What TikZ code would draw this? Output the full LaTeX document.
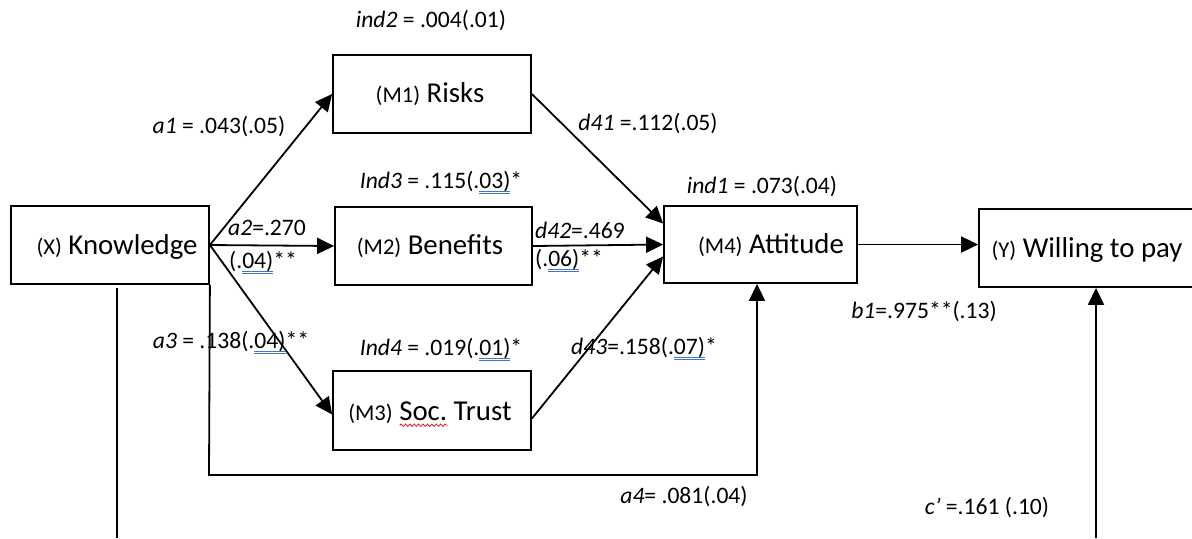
\documentclass[tikz,border=0pt]{standalone}
\usepackage{fontspec}
\setmainfont{Carlito}
\usetikzlibrary{arrows.meta,calc,fit,decorations.pathmorphing}

\definecolor{ulblue}{RGB}{68,114,196}
\definecolor{spellred}{RGB}{230,30,30}

% grammar-check style double underline
\newsavebox\gbox
\newcommand\gramul[1]{\sbox\gbox{#1}\rlap{\color{ulblue}\rule[-1.6pt]{\wd\gbox}{0.35pt}\kern-\wd\gbox\rule[-2.7pt]{\wd\gbox}{0.35pt}}\usebox\gbox}
% spell-check style wavy underline
\newlength\wavelen
\newcommand\spellwave[1]{\sbox\gbox{#1}\setlength\wavelen{\wd\gbox}\rlap{\tikz[baseline=0pt,x=1pt,y=1pt]\draw[spellred,line width=0.4pt,decorate,decoration={snake,amplitude=0.6pt,segment length=2.2pt}] (0pt,-2.6pt) -- (\wavelen,-2.6pt);}\usebox\gbox}

\newcommand\boxfont{\fontsize{14.4}{17}\selectfont}
\newcommand\tagfont{\fontsize{11.3}{13}\selectfont}
\newcommand\labfont{\fontsize{11.8}{14}\selectfont}

\tikzset{
  box/.style={draw, line width=0.9pt, inner sep=0pt},
  boxtext/.style={anchor=base, inner sep=0pt, font=\boxfont},
  lab/.style={anchor=base, inner sep=0pt, font=\labfont},
  link/.style={line width=0.9pt},
  arr/.style={link, -{Triangle[length=8.5pt,width=8pt]}},
}

\begin{document}
\begin{tikzpicture}[x=0.5pt,y=-0.5pt]
\useasboundingbox (0,0) rectangle (1192,538);
\clip (0,0) rectangle (1192,538);

% boxes
\node[box, fit={(11,206)(209,284)}] (x) {};
\node[box, fit={(333,55)(531,133)}] (m1) {};
\node[box, fit={(335,207)(532,285)}] (m2) {};
\node[box, fit={(333,371)(531,450)}] (m3) {};
\node[box, fit={(664,206)(857,283)}] (m4) {};
\node[box, fit={(979,209)(1205,287)}] (y) {};

% box texts
\node[boxtext] (tx) at (117,254) {{\tagfont(X)} Knowledge};
\node[boxtext] (tm1) at (430,102) {{\tagfont(M1)} Risks};
\node[boxtext] (tm2) at (430,254) {{\tagfont(M2)} Benefits};
\node[boxtext] (tm3) at (430,420) {{\tagfont(M3)} \spellwave{Soc.} Trust};
\node[boxtext] (tm4) at (771,253) {{\tagfont(M4)} Attitude};
\node[boxtext] (ty) at (1087,257) {{\tagfont(Y)} Willing to pay};

% free ends and bends
\coordinate (a4bend) at (209,475);
\coordinate (xdown) at (117,538);
\coordinate (ydown) at (1096,538);

% connectors
\draw[arr] (x.east) -- (m1.west);
\draw[arr] (x.east) -- (m2.west);
\draw[arr] (x.east) -- ($(m3.west)+(0,4)$);
\draw[arr] (m1.east) -- ($(m4.west)+(0,-21)$);
\draw[arr] (m2.east) -- (m4.west);
\draw[arr] ($(m3.east)+(0,8)$) -- ($(m4.west)+(0,12)$);
\draw[arr] (m4.east) -- (m4.east -| y.west);
\draw[arr] (x.south east) -- (a4bend) -| ($(m4.south)+(-3.5,0)$);
\draw[link] ($(x.south -| xdown)+(0,3)$) -- (xdown);
\draw[arr] (ydown) -- (ydown |- y.south);

% coefficients
\node[lab] (lind2) at (431,27) {\textit{ind2} = .004(.01)};
\node[lab] (la1) at (219,133) {\textit{a1} = .043(.05)};
\node[lab] (ld41) at (648,130) {\textit{d41} =.112(.05)};
\node[lab] (lind3) at (441,188) {\textit{Ind3} = .115(.\gramul{03)}*};
\node[lab] (lind1) at (762,193) {\textit{ind1} = .073(.04)};
\node[lab] (la2) at (267,235) {\textit{a2}=.270};
\node[lab] (la2se) at (263,268) {(.\gramul{04)}**};
\node[lab] (ld42) at (580,238) {\textit{d42}=.469};
\node[lab] (ld42se) at (569,266) {(.\gramul{06)}**};
\node[lab] (la3) at (231,348) {\textit{a3} = .138(.\gramul{04)}**};
\node[lab] (lind4) at (441,355) {\textit{Ind4} = .019(.\gramul{01)}*};
\node[lab] (ld43) at (644,354) {\textit{d43}=.158(.\gramul{07)}*};
\node[lab] (lb1) at (924,318) {\textit{b1}=.975**(.13)};
\node[lab] (la4) at (684,503) {\textit{a4}= .081(.04)};
\node[lab] (lc) at (987,514) {\textit{c’} =.161 (.10)};
\end{tikzpicture}
\end{document}
